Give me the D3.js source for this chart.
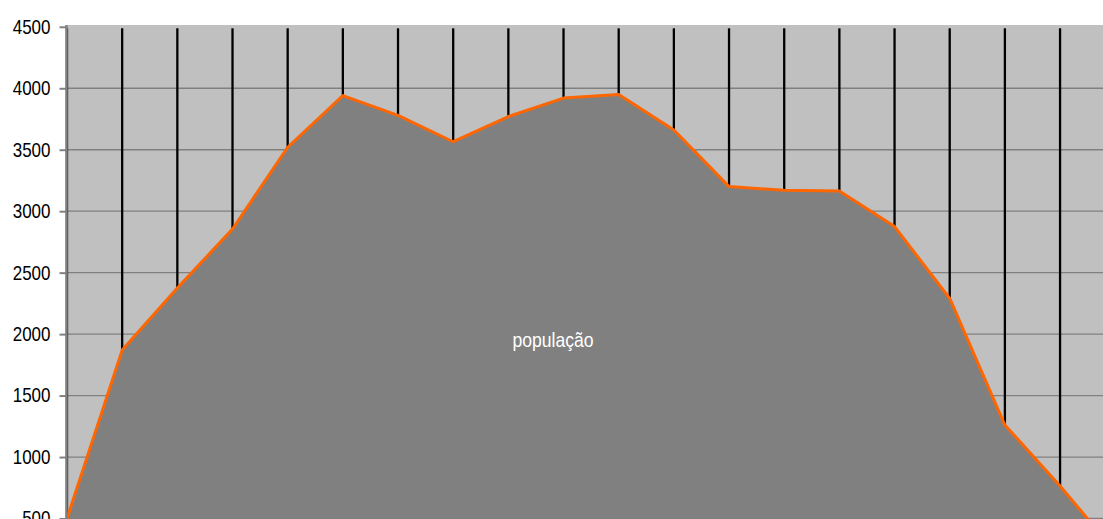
<!DOCTYPE html>
<html>
<head>
<meta charset="utf-8">
<script src="https://cdn.jsdelivr.net/npm/d3@7/dist/d3.min.js"></script>
<style>
  html, body { margin: 0; padding: 0; background: #fff; overflow: hidden; }
  svg { display: block; }
  .axis text { font-family: "Liberation Sans", Arial, sans-serif; font-size: 20px; fill: #000; }
  .axis .domain { display: none; }
  .axis line { stroke: #808080; stroke-width: 2; }
  .grid line { stroke: #808080; stroke-width: 1.3; }
  .label { font-family: "Liberation Sans", Arial, sans-serif; font-size: 20px; fill: #fff; }
</style>
</head>
<body>
<div id="chart"></div>
<script>
// data
var categories = ["1", "2", "3", "4", "5", "6", "7", "8", "9", "10",
  "11", "12", "13", "14", "15", "16", "17", "18", "19", "20"];
var populacao = [500, 1870, 2375, 2855, 3520, 3940, 3780, 3565, 3770, 3920,
  3950, 3660, 3200, 3170, 3165, 2875, 2290, 1260, 765, 230];
var yTicks = [500, 1000, 1500, 2000, 2500, 3000, 3500, 4000, 4500];
var seriesName = "população";

var width = 1103, height = 519;
var margins = { top: 26.8, left: 67, bottom: 0.5 };
var squeeze = 0.85; // the original font is a narrow one

var data = categories.map((c, i) => ({ cat: c, value: populacao[i] }));

var xScale = d3.scalePoint()
  .domain(categories)
  .range([margins.left, margins.left + 55.17 * (categories.length - 1)]);

var yScale = d3.scaleLinear()
  .domain([500, 4500])
  .range([height - margins.bottom, margins.top]);

var svg = d3.select("#chart")
  .append("svg")
  .attr("width", width)
  .attr("height", height);

// plot background
svg.append("rect")
  .attr("x", margins.left)
  .attr("y", yScale(4500) - 1.8)
  .attr("width", xScale(categories[categories.length - 1]) - margins.left)
  .attr("height", yScale(0) - yScale(4500))
  .attr("fill", "#c0c0c0");

// horizontal grid
svg.append("g")
  .attr("class", "grid")
  .selectAll("line")
  .data(yTicks.slice(0, -1))
  .enter()
    .append("line")
    .attr("x1", margins.left)
    .attr("x2", width)
    .attr("y1", d => yScale(d))
    .attr("y2", d => yScale(d));

// drop lines from the top down to each point
svg.append("g")
  .attr("class", "drops")
  .selectAll("line")
  .data(data)
  .enter()
    .append("line")
    .attr("x1", d => xScale(d.cat))
    .attr("x2", d => xScale(d.cat))
    .attr("y1", yScale(4500) + 1.5)
    .attr("y2", d => yScale(d.value))
    .attr("stroke", "#000")
    .attr("stroke-width", 2.3);

var area = d3.area()
  .x(d => xScale(d.cat))
  .y0(yScale(0))
  .y1(d => yScale(d.value));

var line = d3.line()
  .x(d => xScale(d.cat))
  .y(d => yScale(d.value));

svg.append("path")
  .datum(data)
  .attr("d", area)
  .attr("fill", "#808080");

svg.append("path")
  .datum(data)
  .attr("d", line)
  .attr("fill", "none")
  .attr("stroke", "#ff6600")
  .attr("stroke-width", 3)
  .attr("stroke-linejoin", "round");

svg.append("text")
  .attr("class", "label")
  .attr("transform", `translate(553,347) scale(0.88,1)`)
  .attr("text-anchor", "middle")
  .text(seriesName);

// y axis
var yAxis = d3.axisLeft(yScale)
  .tickValues(yTicks)
  .tickSize(7)
  .tickSizeOuter(0)
  .tickPadding(9)
  .tickFormat(d => d);

var yAxisG = svg.append("g")
  .attr("class", "y axis")
  .attr("transform", `translate(${margins.left - 0.5},0)`)
  .call(yAxis);

yAxisG.selectAll("text")
  .attr("x", -16 / squeeze)
  .attr("transform", `scale(${squeeze},1)`);

svg.append("line")
  .attr("x1", margins.left - 0.5)
  .attr("x2", margins.left - 0.5)
  .attr("y1", yScale(4500) - 1.8)
  .attr("y2", height)
  .attr("stroke", "#808080")
  .attr("stroke-width", 2.5);
</script>
</body>
</html>
